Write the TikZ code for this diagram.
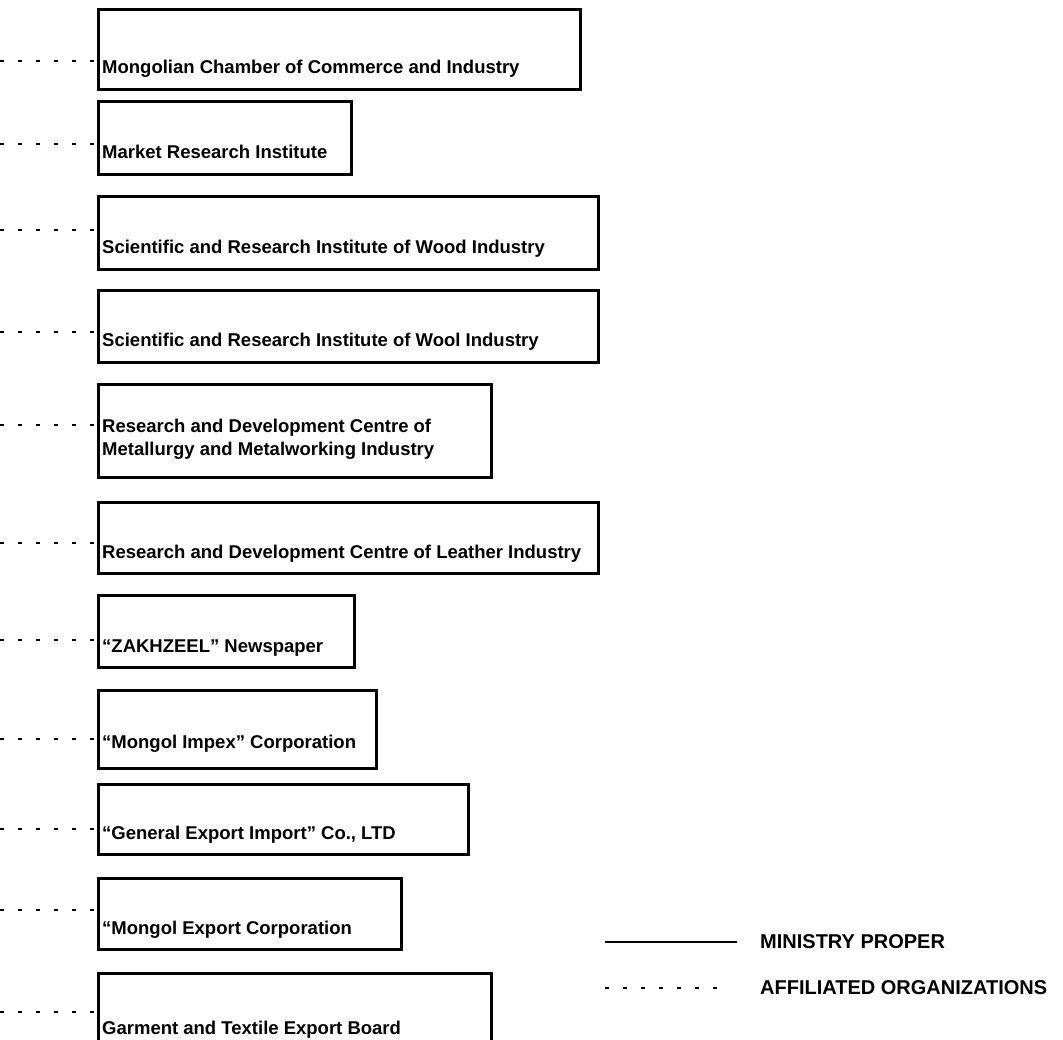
\documentclass[tikz,border=0pt]{standalone}
\usepackage{fontspec}
\setmainfont{Liberation Sans}
\begin{document}
\begin{tikzpicture}[x=1pt,y=-1pt,
  orgbox/.style={draw, line width=2.8pt, rectangle, inner sep=0pt, anchor=north west},
  orgtext/.style={anchor=base west, inner sep=0pt, font=\fontsize{18.5}{22}\selectfont\bfseries},
  aff/.style={line width=1.5pt, dash pattern=on 4pt off 14pt},
  proper/.style={line width=1.7pt},
  legtext/.style={anchor=west, inner sep=0pt, font=\fontsize{20}{24}\selectfont\bfseries}]
\clip (0,0) rectangle (1063,1040);
\fill[white] (0,0) rectangle (1063,1040);
% boxes
\node[orgbox, minimum width=482pt, minimum height=80pt] (b1) at (97,8) {};
\node[orgbox, minimum width=253pt, minimum height=73pt] (b2) at (97,100) {};
\node[orgbox, minimum width=500pt, minimum height=73pt] (b3) at (97,195) {};
\node[orgbox, minimum width=500pt, minimum height=72pt] (b4) at (97,289) {};
\node[orgbox, minimum width=393pt, minimum height=93pt] (b5) at (97,383) {};
\node[orgbox, minimum width=500pt, minimum height=71pt] (b6) at (97,501) {};
\node[orgbox, minimum width=256pt, minimum height=72pt] (b7) at (97,594) {};
\node[orgbox, minimum width=278pt, minimum height=78pt] (b8) at (97,689) {};
\node[orgbox, minimum width=370pt, minimum height=70pt] (b9) at (97,783) {};
\node[orgbox, minimum width=303pt, minimum height=71pt] (b10) at (97,877) {};
\node[orgbox, minimum width=393pt, minimum height=90pt] (b11) at (97,972) {};
% texts
\node[orgtext] (t1) at (102,74) {Mongolian Chamber of Commerce and Industry};
\node[orgtext] (t2) at (102,159) {Market Research Institute};
\node[orgtext] (t3) at (102,254) {Scientific and Research Institute of Wood Industry};
\node[orgtext] (t4) at (102,347) {Scientific and Research Institute of Wool Industry};
\node[orgtext] (t5a) at (102,432) {Research and Development Centre of};
\node[orgtext] (t5b) at (102,455) {Metallurgy and Metalworking Industry};
\node[orgtext] (t6) at (102,558) {Research and Development Centre of Leather Industry};
\node[orgtext] (t7) at (102,652) {“ZAKHZEEL” Newspaper};
\node[orgtext] (t8) at (102,748) {“Mongol Impex” Corporation};
\node[orgtext] (t9) at (102,839) {“General Export Import” Co., LTD};
\node[orgtext] (t10) at (102,934) {“Mongol Export Corporation};
\node[orgtext] (t11) at (102,1034) {Garment and Textile Export Board};
% affiliation connectors
\foreach \i/\yy in {1/61, 2/144, 3/230, 4/332, 5/425, 6/543, 7/640, 8/739, 9/829, 10/910, 11/1012}{
  \coordinate (d\i) at (0,\yy);
  \draw[aff] (d\i) -- (d\i -| b\i.west);
}
% legend
\coordinate (lsA) at (605,942);
\coordinate (lsB) at (737,942);
\draw[proper] (lsA) -- (lsB);
\node[legtext] (lgA) at (760,942) {MINISTRY PROPER};
\coordinate (ldA) at (605,988);
\coordinate (ldB) at (729,988);
\draw[aff] (ldA) -- (ldB);
\node[legtext] (lgB) at (760,988) {AFFILIATED ORGANIZATIONS};
\end{tikzpicture}
\end{document}
